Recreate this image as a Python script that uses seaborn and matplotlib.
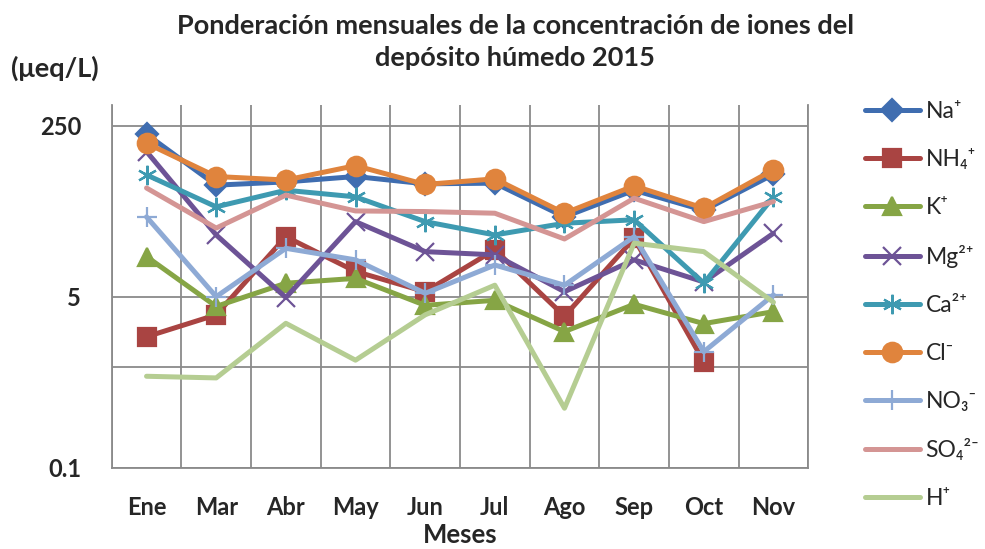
import numpy as np
import pandas as pd
import matplotlib
matplotlib.use("Agg")
import matplotlib.pyplot as plt
from matplotlib.ticker import FixedLocator, NullLocator
import seaborn as sns

# --- datos (μeq/L) ---
meses = ['Ene', 'Mar', 'Abr', 'May', 'Jun', 'Jul', 'Ago', 'Sep', 'Oct', 'Nov']
na = [205, 64, 69, 78, 66, 67, 31, 57, 36, 82]
nh4 = [2.0, 3.3, 19.7, 8.9, 5.6, 14.6, 3.2, 19.0, 1.13, np.nan]
k = [12.5, 4.0, 6.8, 7.6, 4.1, 4.6, 2.25, 4.2, 2.7, 3.55]
mg = [138, 20.5, 4.9, 27.8, 14.0, 13.0, 5.6, 11.6, 7.0, 21.3]
ca = [81, 39, 57, 49, 27.8, 20.5, 26.8, 29, 6.8, 49]
cl = [167, 78, 72, 100, 65, 74, 33.7, 63, 37.8, 91]
no3 = [31, 5.0, 15.1, 11.6, 5.4, 10.3, 6.5, 19.7, 1.42, 5.2]
so4 = [60, 24, 51, 35.5, 35, 33.7, 18.7, 47.5, 27.8, 44]
h = [0.81, 0.78, 2.72, 1.17, 3.3, 6.5, 0.39, 17.0, 14.0, 4.4]

iones = ['Na⁺', 'NH₄⁺', 'K⁺', 'Mg²⁺', 'Ca²⁺', 'Cl⁻', 'NO₃⁻', 'SO₄²⁻', 'H⁺']
valores = [na, nh4, k, mg, ca, cl, no3, so4, h]

# estilo de cada serie (color, marcador, tamaño)
colores = ['#3f6db0', '#a94442', '#86a545', '#6d5396', '#3e9ab1',
           '#e0843d', '#8eaad5', '#d49594', '#b5cd92']
marcadores = ['D', 's', '^', 'x', (6, 2, 0), 'o', '+', None, None]
tamanos = [11, 13, 13, 13, 14, 14, 14, 0, 0]

sns.set_theme(style='white')
plt.rcParams['font.family'] = ['Lato', 'DejaVu Sans']

fig = plt.figure(figsize=(9.85, 5.49), dpi=100)
ax = fig.add_axes([0.1134, 0.148, 0.7072, 0.6607])

x = np.arange(len(meses))
for nombre, vals, c, m, ms in zip(iones, valores, colores, marcadores, tamanos):
    df = pd.DataFrame({'mes': x, 'valor': vals}).dropna()
    sns.lineplot(data=df, x='mes', y='valor', ax=ax, color=c, lw=3.6,
                 marker=m, markersize=ms, markeredgecolor=c, markerfacecolor=c,
                 markeredgewidth=1.6, label=nombre, zorder=3)

ax.set_yscale('log')
ax.set_ylim(0.1, 400)
ax.set_xlim(-0.5, len(meses) - 0.5)

ax.yaxis.set_major_locator(FixedLocator([0.1, 1, 5, 250]))
ax.yaxis.set_minor_locator(NullLocator())
ax.set_yticklabels(['0.1', '', '5', '250'])
ax.set_xticks(x)
ax.set_xticklabels(meses)
ax.xaxis.set_minor_locator(FixedLocator(np.arange(len(meses) + 1) - 0.5))

ax.grid(True, which='major', axis='y', color='#8a8a8a', lw=1.3)
ax.grid(True, which='minor', axis='x', color='#8a8a8a', lw=1.3)
ax.set_axisbelow(True)
ax.tick_params(which='both', length=0)
ax.tick_params(axis='y', pad=22, labelsize=17)
ax.tick_params(axis='x', pad=20, labelsize=17)
for lab in ax.get_xticklabels() + ax.get_yticklabels():
    lab.set_fontweight('bold')

for lado in ['left', 'bottom', 'right']:
    ax.spines[lado].set_color('#8a8a8a')
    ax.spines[lado].set_linewidth(1.3)
ax.spines['top'].set_visible(False)

ax.set_xlabel('')
ax.set_ylabel('')

fig.text(0.523, 0.924, 'Ponderación mensuales de la concentración de iones del\ndepósito húmedo 2015',
         ha='center', va='center', fontsize=19.5, fontweight='bold', linespacing=1.38)
fig.text(0.056, 0.876, '(μeq/L)', ha='center', va='center', fontsize=19.5, fontweight='bold')
fig.text(0.467, 0.026, 'Meses', ha='center', va='center', fontsize=18.5, fontweight='bold')

ax.get_legend().remove()
h_, l_ = ax.get_legend_handles_labels()
fig.legend(h_, l_, loc='upper left', bbox_to_anchor=(0.878, 0.816), frameon=False,
           fontsize=16.5, handlelength=2.4, handletextpad=0.25, labelspacing=1.18,
           borderpad=0, borderaxespad=0)

plt.savefig('out.png', dpi=100)
plt.close()
